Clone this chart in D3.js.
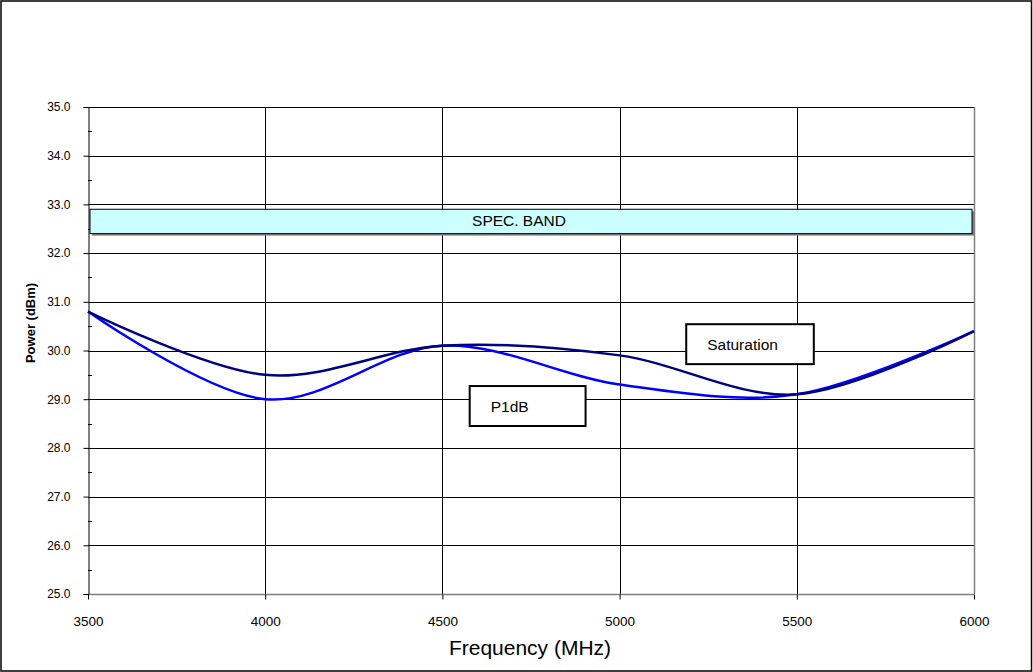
<!DOCTYPE html>
<html lang="en">
<head>
<meta charset="utf-8">
<title>Power vs Frequency</title>
<script src="https://cdn.jsdelivr.net/npm/d3@7"></script>
<style>
  body { margin: 0; background: #fff; }
  text { font-family: "Liberation Sans", Arial, sans-serif; fill: #000; }
</style>
</head>
<body>
<script>
// data
const freqs = [3500, 4000, 4500, 5000, 5500, 6000];
const saturation = [30.8, 29.5, 30.1, 29.9, 29.1, 30.4];
const p1db = [30.8, 29.0, 30.1, 29.3, 29.1, 30.4];
const yTicks = [25, 26, 27, 28, 29, 30, 31, 32, 33, 34, 35];
const xTicks = [3500, 4000, 4500, 5000, 5500, 6000];
const specBand = [32.4, 32.9];

const w = 1033, h = 672;
const pLeft = 88, pRight = 974, pTop = 107, pBottom = 594;
const font = "Liberation Sans, Arial, sans-serif";

const svg = d3.select("body").append("svg")
  .attr("width", w).attr("height", h);

// outer frame
svg.append("rect")
  .attr("x", 1).attr("y", 1).attr("width", w - 2.5).attr("height", h - 2)
  .attr("fill", "#fff").attr("stroke", "#000").attr("stroke-width", 1.5);

const x = d3.scaleLinear().domain([3500, 6000]).range([pLeft, pRight]);
const y = d3.scaleLinear().domain([25, 35]).range([pBottom, pTop]);

// horizontal gridlines
svg.append("g").selectAll("line")
  .data(yTicks).enter().append("line")
  .attr("x1", pLeft).attr("x2", pRight)
  .attr("y1", d => Math.round(y(d)) + 0.5).attr("y2", d => Math.round(y(d)) + 0.5)
  .attr("stroke", "#000").attr("stroke-width", 1);

// vertical gridlines
svg.append("g").selectAll("line")
  .data(xTicks.slice(1, -1)).enter().append("line")
  .attr("x1", d => Math.round(x(d)) + 0.5).attr("x2", d => Math.round(x(d)) + 0.5)
  .attr("y1", pTop).attr("y2", pBottom)
  .attr("stroke", "#000").attr("stroke-width", 1);

// plot border right / bottom (gray)
svg.append("line")
  .attr("x1", pRight + 0.5).attr("x2", pRight + 0.5).attr("y1", pTop).attr("y2", pBottom)
  .attr("stroke", "#808080").attr("stroke-width", 1.5);
svg.append("line")
  .attr("x1", pLeft).attr("x2", pRight).attr("y1", pBottom + 0.5).attr("y2", pBottom + 0.5)
  .attr("stroke", "#808080").attr("stroke-width", 1.5);

// y axis
const yAxis = d3.axisLeft(y).tickValues(yTicks).tickFormat(d3.format(".1f")).tickSize(5).tickPadding(13);
const gy = svg.append("g").attr("transform", `translate(${pLeft + 0.5},0)`).call(yAxis);
gy.select(".domain").attr("stroke", "#000");
gy.selectAll("text").attr("font-size", 12).attr("font-family", font);

// minor ticks on inside
const minor = d3.range(25.5, 35, 1);
svg.append("g").selectAll("line")
  .data(minor).enter().append("line")
  .attr("x1", pLeft).attr("x2", pLeft + 4)
  .attr("y1", d => Math.round(y(d)) + 0.5).attr("y2", d => Math.round(y(d)) + 0.5)
  .attr("stroke", "#000");

// x axis
const xAxis = d3.axisBottom(x).tickValues(xTicks).tickFormat(d3.format("d")).tickSize(5);
const gx = svg.append("g").attr("transform", `translate(0,${pBottom + 0.5})`).call(xAxis);
gx.select(".domain").remove();
gx.selectAll("text")
  .attr("font-size", 13.5).attr("font-family", font)
  .attr("dy", null).attr("y", 625 - pBottom);

// spec band
svg.append("rect")
  .attr("x", x(3500) + 4).attr("y", y(specBand[1]) + 2)
  .attr("width", x(6000) - x(3500) - 4).attr("height", y(specBand[0]) - y(specBand[1]))
  .attr("fill", "#808080");
svg.append("rect")
  .attr("x", x(3500) + 2).attr("y", y(specBand[1]))
  .attr("width", x(6000) - x(3500) - 4).attr("height", y(specBand[0]) - y(specBand[1]))
  .attr("fill", "#ccffff").attr("stroke", "#000").attr("stroke-width", 1);
svg.append("text")
  .attr("x", 519).attr("y", (y(specBand[0]) + y(specBand[1])) / 2 + 5)
  .attr("text-anchor", "middle").attr("font-size", 15.5).text("SPEC. BAND");

// curves
const line = d3.line()
  .x((d, i) => x(freqs[i]))
  .y(d => y(d))
  .curve(d3.curveCardinal.tension(0));

svg.append("path").datum(p1db)
  .attr("d", line).attr("fill", "none")
  .attr("stroke", "#0000ff").attr("stroke-width", 2.5);
svg.append("path").datum(saturation)
  .attr("d", line).attr("fill", "none")
  .attr("stroke", "#000080").attr("stroke-width", 2.5);

// label boxes
function labelBox(bx, by, bw, bh, txt) {
  svg.append("rect")
    .attr("x", bx).attr("y", by).attr("width", bw).attr("height", bh)
    .attr("fill", "#fff").attr("stroke", "#000").attr("stroke-width", 2);
  svg.append("text")
    .attr("x", bx + 21).attr("y", by + bh / 2 + 6)
    .attr("font-size", 15.5).text(txt);
}
labelBox(x(5188), y(30.54), x(5548) - x(5188), y(29.72) - y(30.54), "Saturation");
labelBox(x(4577), y(29.27), x(4904) - x(4577), y(28.45) - y(29.27), "P1dB");

// axis titles
svg.append("text")
  .attr("transform", `translate(35,323) rotate(-90)`)
  .attr("text-anchor", "middle").attr("font-size", 13).attr("font-weight", "bold")
  .text("Power (dBm)");
svg.append("text")
  .attr("x", 530).attr("y", 655)
  .attr("text-anchor", "middle").attr("font-size", 21)
  .text("Frequency (MHz)");
</script>
</body>
</html>
